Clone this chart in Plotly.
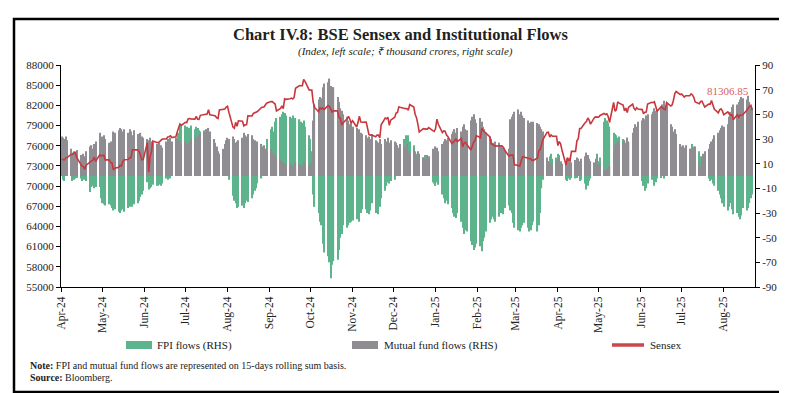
import pandas as pd
import plotly.graph_objects as go

# ---------------- data ----------------
month_labels = ["Apr-24", "May-24", "Jun-24", "Jul-24", "Aug-24", "Sep-24", "Oct-24", "Nov-24",
                "Dec-24", "Jan-25", "Feb-25", "Mar-25", "Apr-25", "May-25", "Jun-25", "Jul-25", "Aug-25"]

# BSE Sensex (index, left scale), trading days from 1 Apr 2024 to 22 Aug 2025 (one row per week)
sensex = [
    74000, 74000, 73900, 74200, 74250,
    74700, 74700, 74900, 75000, 74250,
    73400, 72950, 72900, 72500, 73100,
    73650, 73750, 73850, 74300, 73700,
    74650, 74500, 74500, 74600, 73900,
    73900, 73500, 73450, 72400, 72650,
    72800, 73100, 72990, 73660, 73920,
    73950, 74200, 74220, 75400, 75400,
    75390, 75170, 74500, 73900, 73960,
    76470, 72080, 74380, 75070, 76690,
    76490, 76460, 76610, 76810, 76990,
    77000, 77300, 77340, 77480, 77210,
    77340, 78050, 78670, 79240, 79030,
    79480, 79440, 79990, 80050, 79990,
    79960, 80350, 79920, 79900, 80520,
    80660, 80720, 80720, 81340, 80600,
    80500, 80430, 80150, 80040, 81330,
    81360, 81450, 81740, 81870, 80980,
    78760, 78590, 79470, 78890, 79710,
    79650, 78960, 79110, 79110, 80440,
    80420, 80800, 80910, 81050, 81090,
    81700, 81710, 81790, 82130, 82370,
    82560, 82560, 82350, 82200, 81180,
    81560, 81920, 81520, 82960, 82890,
    82990, 83080, 82950, 83180, 84540,
    84930, 84910, 84910, 85840, 85570,
    84300, 84270, 84270, 82500, 81690,
    81050, 81630, 81470, 81610, 81380,
    81970, 81820, 81500, 81010, 81220,
    81150, 80220, 80080, 79070, 79400,
    80000, 80370, 79940, 79390, 79720,
    78780, 79480, 80380, 79540, 79490,
    79500, 78680, 77690, 77580, 77580,
    77340, 77580, 77580, 77160, 79120,
    80110, 80000, 80230, 79040, 79800,
    80250, 80850, 80960, 81770, 81710,
    81510, 81510, 81530, 81290, 82130,
    81750, 80680, 80180, 79220, 78040,
    78540, 78470, 78470, 78470, 78700,
    78250, 78140, 78510, 79940, 79220,
    77960, 78200, 78150, 77620, 77380,
    76330, 76500, 76720, 77040, 76620,
    77070, 75840, 76400, 76520, 76190,
    75370, 75900, 76530, 76760, 77500,
    77190, 78580, 78270, 78060, 77860,
    77310, 76290, 76170, 76140, 75940,
    75990, 76000, 75940, 75740, 75310,
    74450, 74600, 74600, 74610, 73200,
    73090, 72990, 73730, 74340, 74330,
    74120, 74100, 74030, 73830, 73830,
    74170, 75300, 75450, 76350, 76910,
    77980, 78020, 77290, 77610, 77410,
    77410, 76020, 76620, 76300, 75360,
    73140, 74230, 73850, 73850, 75160,
    75160, 76730, 77040, 78550, 78550,
    79410, 79600, 80120, 79800, 79210,
    80220, 80290, 80240, 80240, 80500,
    80800, 80640, 80750, 80330, 79450,
    82430, 81150, 81330, 82530, 82330,
    82060, 81190, 81600, 80950, 81720,
    82180, 81550, 81310, 81630, 81450,
    81370, 80740, 80990, 81000, 82190,
    82450, 82390, 82520, 81690, 81120,
    81800, 81580, 81440, 81360, 82410,
    81900, 82060, 82760, 83760, 84060,
    83610, 83700, 83410, 83240, 83430,
    83440, 83710, 83540, 83190, 82500,
    82250, 82570, 82630, 82260, 81760,
    82200, 82190, 82730, 82180, 81460,
    80890, 81340, 81480, 81190, 80600,
    81020, 80710, 80540, 80620, 79860,
    80600, 80240, 80540, 80600, 80600,
    81270, 81640, 81860, 82000, 81306.85,
]

# FPI flows, 15-day rolling sum (₹ thousand crore, right scale)
fpi_flows = [
    2, -3, -4, 1, 3,
    8, -4, -3, -2, -1,
    -2, -4, -3, -3, -4,
    -13, -9, -8, -10, -9,
    -9, -18, -22, -23, -24,
    -23, -24, -26, -28, -27,
    -29, -30, -28, -27, -29,
    -26, -25, -24, -25, -23,
    -22, -20, -17, -15, -12,
    -5, -11, -10, -9, -7,
    -8, -8, -7, -8, -6,
    -2, -3, 1, -2, 2,
    10, 25, 35, 40, 42,
    41, 40, 38, 39, 41,
    38, 40, 39, 37, 36,
    37, 35, 38, 32, 30,
    22, 18, 15, 12, 10,
    8, 5, 4, 2, -3,
    -16, -20, -22, -26, -25,
    -24, -26, -22, -20, -21,
    -18, -15, -12, -10, -6,
    -2, 3, 10, 20, 30,
    38, 40, 36, 44, 47,
    48, 50, 52, 51, 49,
    48, 47, 49, 46, 47,
    46, 44, 43, 45, 40,
    33, 30, 20, -15, -25,
    -30, -37, -40, -55, -62,
    -65, -70, -83, -72, -69,
    -68, -60, -50, -47, -40,
    -42, -40, -38, -37, -36,
    -35, -33, -37, -30, -27,
    -27, -30, -31, -28, -22,
    -30, -29, -31, -25, -18,
    -12, -8, -5, -6, -4,
    -3, 2, 5, 10, 20,
    30, 33, 31, 33, 28,
    25, 20, 18, 16, 12,
    15, 17, 16, 13, 8,
    -5, -6, -8, -5, -7,
    -15, -18, -22, -20, -23,
    -26, -30, -33, -34, -30,
    -37, -42, -47, -44, -45,
    -53, -56, -60, -58, -55,
    -57, -61, -53, -50, -45,
    -38, -35, -33, -35, -37,
    -33, -30, -28, -31, -26,
    -24, -28, -30, -38, -42,
    -44, -45, -42, -40, -38,
    -42, -45, -44, -40, -37,
    -45, -40, -30, -10, -3,
    8, 12, 16, 18, 14,
    15, 18, 17, 12, 4,
    -3, -4, -2, -3, -1,
    -2, -1, 1, -4, -3,
    -6, -11, -8, -4, -2,
    8, 14, 18, 12, 15,
    44, 47, 45, 43, 40,
    35, 34, 33, 31, 32,
    30, 29, 27, 31, 27,
    20, 15, 10, 5, 2,
    -4, -8, -12, -10, -6,
    -3, -1, -8, -5, -2,
    -1, 1, -2, 2, 3,
    5, 8, 10, 12, 9,
    12, 14, 10, 11, 13,
    18, 22, 26, 24, 23,
    20, 16, 12, 8, 3,
    -2, -4, -3, -6, -8,
    -12, -15, -18, -22, -25,
    -28, -25, -22, -27, -31,
    -30, -33, -35, -32, -26,
    -28, -26, -22, -18, -15,
]

# Mutual fund flows, 15-day rolling sum (₹ thousand crore, right scale)
mf_flows = [
    32, 31, 30, 32, 29,
    22, 19, 20, 18, 21,
    17, 15, 18, 16, 20,
    24, 25, 22, 26, 28,
    35, 30, 32, 33, 30,
    27, 28, 26, 36, 35,
    37, 39, 38, 36, 38,
    35, 38, 36, 33, 37,
    34, 33, 35, 32, 31,
    30, 29, 31, 28, 27,
    26, 24, 27, 25, 23,
    28, 30, 29, 31, 28,
    31, 30, 29, 28, 26,
    28, 26, 25, 27, 30,
    30, 32, 31, 33, 34,
    36, 38, 37, 39, 36,
    30, 27, 24, 20, 18,
    22, 26, 29, 31, 30,
    32, 30, 27, 28, 29,
    31, 35, 33, 32, 34,
    33, 30, 29, 27, 28,
    26, 24, 25, 22, 20,
    22, 20, 18, 16, 15,
    14, 12, 11, 10, 9,
    9, 10, 8, 7, 11,
    10, 9, 8, 12, 8,
    8, 10, 12, 45, 58,
    62, 64, 63, 72, 75,
    76, 79, 73, 72, 72,
    64, 60, 55, 53, 50,
    48, 45, 42, 44, 40,
    39, 36, 38, 35, 34,
    33, 31, 32, 30, 34,
    29, 28, 27, 30, 26,
    30, 28, 31, 27, 29,
    28, 27, 25, 23, 26,
    24, 22, 26, 20, 18,
    22, 19, 16, 20, 18,
    15, 14, 13, 17, 16,
    22, 21, 24, 23, 20,
    26, 28, 30, 29, 31,
    34, 36, 38, 35, 39,
    36, 40, 42, 38, 37,
    45, 48, 50, 46, 43,
    47, 44, 40, 38, 35,
    32, 30, 27, 26, 28,
    27, 25, 22, 23, 21,
    22, 46, 48, 50, 52,
    54, 50, 52, 49, 47,
    45, 43, 44, 42, 44,
    43, 42, 40, 38, 36,
    15, 12, 10, 11, 9,
    12, 14, 15, 11, 10,
    12, 14, 13, 15, 11,
    13, 15, 14, 12, 14,
    16, 19, 17, 14, 12,
    11, 13, 15, 9, 10,
    5, 4, 6, 3, 8,
    20, 25, 27, 28, 26,
    27, 29, 26, 31, 28,
    35, 39, 42, 40, 44,
    45, 47, 46, 49, 50,
    50, 52, 55, 53, 54,
    55, 58, 61, 57, 59,
    42, 40, 36, 38, 34,
    26, 24, 25, 23, 25,
    22, 20, 23, 21, 24,
    12, 8, 15, 18, 20,
    22, 26, 28, 30, 33,
    35, 37, 39, 41, 40,
    42, 48, 52, 56, 58,
    58, 60, 62, 64, 63,
    62, 65, 60, 56, 55,
]

left_ticks = list(range(55000, 88001, 3000))
right_ticks = [-90, -70, -50, -30, -10, 10, 30, 50, 70, 90]
last_label = "81306.85"

# ---------------- figure ----------------
dates = pd.bdate_range("2024-04-01", periods=len(sensex))
month_starts = pd.date_range("2024-04-01", periods=len(month_labels), freq="MS")

W, H = 787, 393
L, R, T, B = 53, 747, 57, 279


def px(x):
    return (x - L) / (R - L)


def py(y):
    return (B - y) / (B - T)


SERIF = "Liberation Serif, Times New Roman, serif"
GREEN = "#5db48c"
GREY = "#8f8d92"
RED = "#c8373d"
TXT = "#222222"

fig = go.Figure()
fig.add_trace(go.Bar(x=dates, y=fpi_flows, name="FPI flows (RHS)",
                     marker=dict(color=GREEN, line=dict(width=0)), yaxis="y", showlegend=False))
fig.add_trace(go.Bar(x=dates, y=mf_flows, name="Mutual fund flows (RHS)",
                     marker=dict(color=GREY, line=dict(width=0)), yaxis="y", showlegend=False))
fig.add_trace(go.Scatter(x=dates, y=sensex, name="Sensex", mode="lines",
                         line=dict(color=RED, width=1.6), yaxis="y2", showlegend=False))

axis_common = dict(showline=True, linecolor="black", linewidth=1, ticks="outside",
                   ticklen=4, tickcolor="black", showgrid=False, zeroline=False,
                   tickfont=dict(family=SERIF, size=11, color=TXT))

fig.update_layout(
    width=W, height=H,
    margin=dict(l=L, r=W - R, t=T, b=H - B, pad=0),
    paper_bgcolor="white", plot_bgcolor="white",
    barmode="overlay", bargap=0.12,
    xaxis=dict(type="date", range=["2024-03-31 12:00", "2025-08-24"],
               tickvals=list(month_starts), ticktext=month_labels, tickangle=-90,
               **{**axis_common, "tickfont": dict(family=SERIF, size=11.5, color=TXT)}),
    yaxis=dict(side="right", range=[-90, 90], tickvals=right_ticks,
               ticktext=[str(v) for v in right_ticks], **axis_common),
    yaxis2=dict(side="left", overlaying="y", range=[55000, 88000], tickvals=left_ticks,
                ticktext=[str(v) for v in left_ticks], **axis_common),
)

shapes = [
    # outer frame
    dict(type="rect", xref="paper", yref="paper", x0=px(6), x1=px(782), y0=py(384), y1=py(11),
         line=dict(color="black", width=2.5), fillcolor="rgba(0,0,0,0)", layer="above"),
    # legend swatches
    dict(type="rect", xref="paper", yref="paper", x0=px(118), x1=px(144), y0=py(341), y1=py(333),
         fillcolor=GREEN, line=dict(width=0)),
    dict(type="rect", xref="paper", yref="paper", x0=px(344), x1=px(370), y0=py(341), y1=py(333),
         fillcolor=GREY, line=dict(width=0)),
    dict(type="line", xref="paper", yref="paper", x0=px(604), x1=px(636), y0=py(337), y1=py(337),
         line=dict(color="#c9484b", width=3.5)),
]
fig.update_layout(shapes=shapes)

ann = [
    dict(text="<b>Chart IV.8: BSE Sensex and Institutional Flows</b>", x=px(392), y=py(26),
         xanchor="center", yanchor="middle", font=dict(family=SERIF, size=16.5, color="#231f20")),
    dict(text="<i>(Index, left scale; ₹ thousand crores, right scale)</i>", x=px(397), y=py(44),
         xanchor="center", yanchor="middle", font=dict(family=SERIF, size=11, color="#231f20")),
    dict(text="FPI flows (RHS)", x=px(147), y=py(337), xanchor="left", yanchor="middle",
         font=dict(family=SERIF, size=11, color=TXT)),
    dict(text="Mutual fund flows (RHS)", x=px(374), y=py(337), xanchor="left", yanchor="middle",
         font=dict(family=SERIF, size=11, color=TXT)),
    dict(text="Sensex", x=px(640), y=py(337), xanchor="left", yanchor="middle",
         font=dict(family=SERIF, size=11, color=TXT)),
    dict(text="<b>Note:</b> FPI and mutual fund flows are represented on 15-days rolling sum basis.",
         x=px(20), y=py(357), xanchor="left", yanchor="middle",
         font=dict(family=SERIF, size=10, color=TXT)),
    dict(text="<b>Source:</b> Bloomberg.", x=px(20), y=py(369), xanchor="left", yanchor="middle",
         font=dict(family=SERIF, size=10, color=TXT)),
    dict(text=last_label, x=px(743), y=py(83), xanchor="right", yanchor="middle",
         font=dict(family=SERIF, size=11, color="#d9605e")),
]
for a in ann:
    a.update(xref="paper", yref="paper", showarrow=False)
fig.update_layout(annotations=ann)

fig.write_html("out.html")
